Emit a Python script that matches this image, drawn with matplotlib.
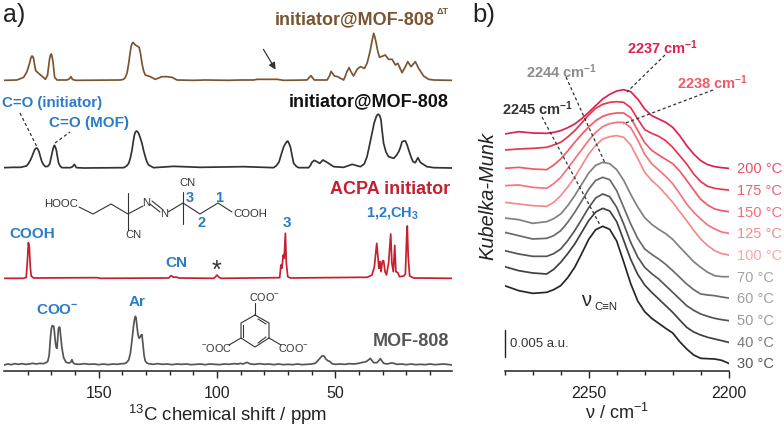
import matplotlib
matplotlib.use("Agg")
import matplotlib.pyplot as plt
import numpy as np

plt.rcParams['font.family'] = ['Liberation Sans', 'DejaVu Sans']
plt.rcParams['mathtext.fontset'] = 'custom'
plt.rcParams['mathtext.rm'] = 'Liberation Sans'
plt.rcParams['mathtext.bf'] = 'Liberation Sans:bold'
plt.rcParams['mathtext.default'] = 'regular'

# a) NMR spectra, chemical shift in ppm and intensity in arbitrary units
brown_ppm = [189.9, 184.5, 181.7, 180.3, 179.2, 178.7, 178.2, 177.9, 177.5, 177.1, 176.6, 175.4, 174, 172.5, 171.6, 171, 170.7, 170.3, 170, 169.7, 169.3, 168.9, 168.6, 167.6, 163.4, 162.3, 161.7, 161.1, 159.9,
             140.8, 139.5, 138.7, 138, 137.3, 136.8, 136.3, 135.9, 135.5, 135, 134.5, 133.8, 132.9, 132.3, 131.7, 131, 130.3, 128.2, 126.1, 123.2, 121.1, 119, 116.9, 110, 105, 95, 90,
             84.5, 83.1, 78.9, 74.6, 71.8,
             62, 60.3, 58.9, 53.5, 52.4, 51.8, 50.4, 49, 46.5, 45.7, 45.1, 44.2, 43.4, 42.3, 40.8, 39.4, 37.7, 36.6, 35.9, 35.2, 34.5, 33.8, 33.3, 32.7, 32, 31.3, 28.9, 27.5, 26, 24.6, 23.6, 21.8, 20.4, 19.4, 18, 16.2, 14.8, 12.7, 10.6, 8.4, 0.7]
brown_int = [0, 1, 9, 26, 51, 66, 73, 72, 66, 48, 29, 21, 13, 3, 16, 50, 66, 77, 79, 72, 56, 28, 9, 1, 1, 5, 11, 3, 0,
             1, 3, 9, 22, 51, 78, 101, 110, 114, 110, 106, 103, 99, 80, 51, 28, 16, 11, 3, 11, 11, 9, 1, 0, 1, 0, 1,
             1, 3, 3, 3, 0,
             1, 14, 1, 1, 14, 27, 13, 11, 1, 14, 26, 38, 26, 13, 33, 41, 36, 51, 70, 91, 118, 141, 130, 111, 85, 69, 76, 63, 63, 46, 51, 23, 41, 56, 41, 56, 36, 13, 3, 1, 0]

black_ppm = [189.9, 186, 183.1, 180.5, 179.6, 178.7, 178.2, 177.6, 177.1, 176.6, 176.1, 175.7, 175.2, 174.6, 174, 173.2, 172.5, 171.5, 170.7, 170.2, 169.7, 169.2, 168.7, 168.3, 167.9, 167.4, 166.9, 166.2, 165.5, 162, 161, 160.3, 159.4, 156.3,
             139.4, 138.2, 137.3, 136.6, 135.9, 135.4, 134.9, 134.5, 134.1, 133.6, 133.1, 132.4, 131.7, 131, 130.3, 129.6, 128.9, 126.8, 118.3, 107, 88.7, 76.1, 74.9,
             73.8, 72.8, 71.8, 71, 70.5, 70.1, 69.6, 69, 68.3, 67.6, 66.5, 65.5, 61.3, 60.5, 59.9, 58.9, 57.8, 56.6, 55.2, 53.5, 50.7, 46.5, 42.9, 39.4, 37.8,
             36.6, 35.5, 34.5, 33.6, 32.7, 32.2, 31.7, 31.2, 30.7, 30.2, 29.6, 28.6, 27.5, 25.3, 24.2, 23.2, 22.5, 21.8, 21, 20.4, 19.7, 19, 18, 17.2, 16.2, 15.1, 14.1, 11.3, 8.4, 0.7]
black_int = [1, 2, 2, 6, 14, 26, 34, 45, 54, 59, 60, 56, 49, 33, 19, 9, 4, 5, 12, 28, 44, 60, 68, 63, 54, 33, 14, 5, 1, 1, 4, 11, 1, 0,
             1, 6, 14, 30, 54, 78, 99, 107, 111, 109, 104, 90, 74, 52, 34, 18, 9, 1, 5, 2, 4, 1, 7,
             18, 42, 64, 74, 79, 81, 74, 64, 38, 14, 5, 1, 1, 8, 17, 23, 19, 14, 24, 17, 4, 2, 11, 4, 12,
             34, 70, 104, 135, 154, 160, 161, 156, 144, 110, 74, 48, 34, 29, 38, 49, 62, 79, 81, 81, 70, 54, 33, 19, 16, 31, 17, 4, 1, 0]

red_ppm = [189.9, 181.7, 180.6, 180.0, 179.7, 179.3, 178.9, 178.5, 177.5, 150.7, 149.3, 120.4, 119.4, 118.3, 117.2, 116.1, 101.4, 100.7, 100.0, 99.3, 98.3,
           73.5, 73.0, 72.6, 72.0, 71.6, 71.1, 70.7, 70.1, 69.0,
           40.1, 36.6, 34.5, 33.5, 32.5, 32.0, 31.6, 31.1, 30.7, 30.1, 29.6, 29.0, 28.4, 27.5, 26.6, 26.1, 25.5, 24.9, 24.4, 23.6, 22.9, 21.1, 20.4, 19.9, 19.6, 19.2, 18.6, 16.9, 0.7]
red_int = [0, 0, 3, 65, 107, 95, 35, 7, 1, 2, 0, 1, 8, 3, 4, 1, 0, 4, 10, 4, 0,
           2, 40, 30, 70, 60, 135, 45, 5, 1,
           3, 3, 10, 35, 105, 65, 30, 50, 20, 52, 53, 20, 10, 45, 133, 45, 20, 99, 20, 17, 5, 7, 13, 115, 157, 65, 7, 1, 0]

mof_ppm = [189.9, 188.4, 186.9, 185.4, 183.9, 182.4, 180.9, 179.4, 177.9, 176.4, 174.9, 173.4, 172.2,
           171.5, 170.9, 170.4, 170.0, 169.7, 169.4, 169.0, 168.7, 168.3, 167.9, 167.6, 167.3, 167.0, 166.7, 166.4, 166.0, 165.5, 164.8, 163.8, 162.6,
           161.8, 161.3, 160.7, 160, 158, 156, 154, 152, 150, 148, 146, 144, 142, 140.5, 139.5,
           138.4, 137.3, 136.6, 135.9, 135.3, 134.9, 134.5, 134.2, 133.8, 133.4, 132.9, 132.4, 132.0, 131.7, 131.3, 130.8, 130.3, 129.6, 128.9, 127, 125, 123, 121, 119, 117, 115, 113, 111, 109, 107, 105, 103, 101, 99, 97, 95, 93,
           91, 90.1, 89, 87.3, 85.9, 84, 82, 80, 78, 76, 74, 72, 70, 68, 66, 64, 62, 60,
           58.5, 57.5, 56.5, 55.8, 55.2, 54.6, 54.0, 53.2, 52.4, 51.4, 50, 48, 46, 44, 42, 40.1, 38.5, 37, 36, 35.2, 34.6, 33.8, 32.4, 31.5, 31.0, 30.4, 29.6, 28, 26.5, 25.2, 24, 22, 20, 18, 16, 14, 12, 10, 8, 6, 4, 2, 0.7]
mof_int = [0, 3, 1, 4, 2, 4, 2, 3, 5, 3, 5, 4, 7,
           11, 30, 80, 108, 117, 118, 116, 100, 68, 52, 50, 80, 108, 114, 112, 85, 50, 22, 8, 6,
           8, 16, 6, 3, 2, 4, 2, 3, 1, 3, 1, 3, 2, 4, 4,
           6, 15, 35, 75, 115, 135, 146, 142, 115, 92, 80, 85, 90, 91, 62, 28, 12, 6, 4, 2, 4, 2, 3, 1, 3, 2, 3, 1, 2, 3, 1, 3, 2, 1, 3, 2, 4,
           3, 5, 3, 8, 3, 2, 4, 2, 3, 1, 3, 1, 2, 1, 3, 1, 2, 3,
           5, 12, 20, 26, 28, 25, 18, 13, 11, 4, 2, 3, 2, 4, 3, 5, 8, 10, 15, 20, 14, 7, 7, 14, 19, 13, 5, 3, 6, 5, 2, 3, 1, 3, 1, 2, 1, 3, 1, 2, 3, 1, 0]

nmr_offsets = [872, 609, 278, 18]

# b) Kubelka-Munk spectra with the stack offset already in them
wavenumber = [2280, 2275, 2270, 2265, 2262.5, 2260, 2257.5, 2255, 2252.5, 2250, 2247.5, 2245, 2242.5, 2240, 2237.5, 2235,
              2232.5, 2230, 2227.5, 2225, 2222.5, 2220, 2217.5, 2215, 2212.5, 2210, 2207.5, 2205, 2202.5, 2200]
km_30 = [256, 241, 233, 236, 244, 256, 280, 311, 352, 395, 424, 434, 425, 390, 327, 262,
         210, 178, 158, 143, 128, 114, 88, 66, 48, 38, 37, 36, 32, 23]
km_40 = [313, 301, 294, 291, 305, 326, 352, 381, 416, 451, 477, 488, 480, 448, 392, 335,
         290, 258, 236, 216, 196, 176, 153, 131, 117, 108, 101, 96, 91, 86]
km_50 = [361, 351, 344, 344, 352, 366, 391, 421, 455, 490, 519, 531, 523, 491, 441, 386,
         342, 311, 292, 276, 256, 236, 216, 196, 182, 171, 164, 158, 154, 151]
km_60 = [416, 406, 396, 398, 406, 421, 446, 476, 510, 545, 572, 581, 574, 541, 491, 441,
         398, 366, 350, 336, 320, 301, 281, 261, 244, 231, 228, 226, 222, 219]
km_70 = [459, 454, 443, 448, 457, 471, 496, 526, 560, 594, 617, 626, 622, 604, 572, 530,
         492, 460, 440, 425, 412, 395, 372, 350, 328, 311, 296, 286, 283, 283]
km_100 = [506, 501, 496, 494, 506, 526, 552, 581, 616, 651, 677, 696, 703, 706, 701, 678,
          638, 596, 572, 553, 530, 506, 478, 451, 422, 396, 376, 361, 352, 348]
km_125 = [556, 558, 551, 548, 562, 581, 608, 636, 664, 692, 716, 733, 742, 746, 746, 730,
          693, 650, 622, 603, 584, 562, 532, 501, 476, 456, 438, 426, 417, 413]
km_150 = [608, 611, 606, 604, 618, 636, 660, 686, 710, 732, 751, 764, 771, 774, 774, 760,
          722, 685, 662, 648, 635, 622, 600, 572, 543, 515, 498, 486, 481, 478]
km_175 = [663, 666, 668, 671, 678, 686, 702, 721, 744, 768, 788, 800, 806, 808, 806, 790,
          756, 724, 713, 704, 691, 671, 646, 621, 591, 568, 554, 548, 545, 543]
km_200 = [711, 718, 714, 713, 716, 721, 730, 741, 757, 776, 796, 816, 830, 840, 844, 838,
          816, 786, 766, 756, 746, 731, 706, 676, 651, 631, 619, 613, 610, 608]
temp_labels = ['200 °C', '175 °C', '150 °C', '125 °C', '100 °C', '70 °C', '60 °C', '50 °C', '40 °C', '30 °C']

nmr_colors = ['#7b5531', '#333333', '#c4202f', '#555555']
km_series = [km_200, km_175, km_150, km_125, km_100, km_70, km_60, km_50, km_40, km_30]
km_colors = ['#e0204f', '#e63650', '#ef5a66', '#f2747c', '#f58a8a', '#808080', '#6a6a6a', '#555555', '#404040', '#262626']
label_colors = ['#e9506f', '#ec5f72', '#f06f7c', '#f58b90', '#f8a6a6', '#a3a3a3', '#a0a0a0', '#999999', '#7a7a7a', '#555555']
blue = '#2b7bc8'

fig = plt.figure(figsize=(7.84, 4.26), dpi=100)


def clean_axis(ax):
    ax.patch.set_alpha(0)
    for side in ['top', 'left', 'right']:
        ax.spines[side].set_visible(False)
    ax.spines['bottom'].set_linewidth(1.1)
    ax.spines['bottom'].set_color('#222222')
    ax.set_yticks([])
    ax.tick_params(axis='x', which='major', length=5, width=1.0, labelsize=11.5, pad=6, color='#222222', labelcolor='#222222')
    ax.tick_params(axis='x', which='minor', length=3, width=1.0, color='#222222')


# panel a
ax1 = fig.add_axes([4 / 784, 55 / 426, 448 / 784, 371 / 426])
for ppm, intensity, off, col in zip([brown_ppm, black_ppm, red_ppm, mof_ppm],
                                    [brown_int, black_int, red_int, mof_int],
                                    nmr_offsets, nmr_colors):
    ax1.plot(ppm, np.array(intensity) + off, color=col, lw=1.25)
ax1.set_xlim(190, 0.7)
ax1.set_ylim(0, 1113)
ax1.set_xticks([150, 100, 50])
ax1.set_xticks(np.arange(10, 190, 10), minor=True)
ax1.set_xlabel(r'$^{13}$C chemical shift / ppm', fontsize=13.4, color='#222222', labelpad=1)
clean_axis(ax1)

# panel b
ax2 = fig.add_axes([504.7 / 784, 55 / 426, 224 / 784, 371 / 426])
for km, col in zip(km_series, km_colors):
    ax2.plot(wavenumber, km, color=col, lw=1.25)
ax2.set_xlim(2280, 2200)
ax2.set_ylim(0, 1113)
ax2.set_xticks([2250, 2200])
ax2.set_xticks(np.arange(2280, 2200, -10), minor=True)
ax2.set_xlabel(r'$\nu$ / cm$^{-1}$', fontsize=13, color='#222222', labelpad=1)
clean_axis(ax2)

# overlay in picture pixels for labels and the two structures
ov = fig.add_axes([0, 0, 1, 1])
ov.set_xlim(0, 784)
ov.set_ylim(426, 0)
ov.axis('off')


def label(x, y, s, col='#222222', size=10, weight='normal', ha='center', **kw):
    ov.text(x, y, s, color=col, fontsize=size, fontweight=weight, ha=ha, va='center', **kw)


def bonds(points, lw=0.8, col='#333333'):
    xs, ys = zip(*points)
    ov.plot(xs, ys, color=col, lw=lw, solid_capstyle='round')


def dashed(x0, y0, x1, y1):
    ov.plot([x0, x1], [y0, y1], color='#333333', lw=0.9, ls=(0, (2.5, 2)))


label(14, 15, 'a)', size=18)
label(484, 15, 'b)', size=18.5)

# spectrum names
label(435, 20, 'initiator@MOF-808', nmr_colors[0], 13, 'bold', ha='right')
label(443, 12, 'ΔT', nmr_colors[0], 6.5, 'bold')
label(449, 102, 'initiator@MOF-808', '#111111', 13, 'bold', ha='right')
label(450, 190, 'ACPA initiator', nmr_colors[2], 13, 'bold', ha='right')
label(449, 342, 'MOF-808', nmr_colors[3], 13, 'bold', ha='right')

# blue assignments
label(52, 103, 'C=O (initiator)', blue, 10.8, 'bold')
label(89, 123, 'C=O (MOF)', blue, 11, 'bold')
label(32, 234, 'COOH', blue, 11, 'bold')
label(176, 263, 'CN', blue, 11, 'bold')
label(287, 223, '3', blue, 11, 'bold')
label(393, 213, r'1,2,CH$_3$', blue, 10.5, 'bold')
label(57, 310, r'COO$^{-}$', blue, 11, 'bold')
label(137, 302, 'Ar', blue, 11, 'bold')
label(216.7, 271, '*', '#333333', 18)
dashed(20, 113, 36.5, 146)
dashed(55, 143, 70, 132)
ov.annotate('', xy=(277, 72), xytext=(262, 47),
            arrowprops=dict(arrowstyle='-|>', color='#333333', lw=0.9, mutation_scale=10))

# ACPA structure
bonds([(79, 207), (93, 214), (111, 204), (128, 214), (143, 206)])
bonds([(128, 193), (128, 230)])
bonds([(168, 212), (183, 203), (200, 214), (218, 203), (232, 212)])
bonds([(183, 192), (183, 224)])
bonds([(150, 204), (160, 212)])
bonds([(152, 201), (162, 209)])
label(61.5, 204, 'HOOC', '#333333', 8.2)
label(146.5, 203.5, 'N', '#333333', 8)
label(164, 214, 'N', '#333333', 8)
label(133, 235, 'CN', '#333333', 8)
label(187, 183, 'CN', '#333333', 8)
label(250, 214, 'COOH', '#333333', 8.2)
label(190, 198, '3', blue, 10.5, 'bold')
label(219, 198, '1', blue, 10.5, 'bold')
label(202, 223, '2', blue, 10.5, 'bold')

# trimesate structure
ring = [(255, 315), (269, 323), (269, 338), (255, 347), (241, 338), (241, 323), (255, 315)]
bonds(ring)
bonds([(255, 315), (255, 303)])
bonds([(241, 338), (229, 345)])
bonds([(269, 338), (281, 345)])
bonds([(243.5, 325), (243.5, 337)])
bonds([(258, 319), (266, 324)])
bonds([(258, 343), (266, 337)])
label(264, 297, r'COO$^{-}$', '#333333', 7.8)
label(217, 348, r'$^{-}$OOC', '#333333', 7.8)
label(293, 348, r'COO$^{-}$', '#333333', 7.8)

# panel b labels
label(663, 48, r'2237 cm$^{-1}$', '#e0204f', 10.5, 'bold')
label(713, 83, r'2238 cm$^{-1}$', '#ef5a66', 10.5, 'bold')
label(562, 72, r'2244 cm$^{-1}$', '#8c8c8c', 10.5, 'bold')
label(538, 109, r'2245 cm$^{-1}$', '#333333', 10.5, 'bold')
dashed(665, 55, 627, 92)
dashed(713, 90, 623, 124)
dashed(566, 77, 605, 163)
dashed(542, 117, 600, 225)

label_y = [169, 191, 213, 234, 256, 278, 299, 321, 343, 364]
for y, s, col in zip(label_y, temp_labels, label_colors):
    label(737, y, s, col, 10.5, ha='left')

label(488, 196, 'Kubelka-Munk', '#222222', 14.4, style='italic', rotation=90)
label(587, 300, r'$\nu$', '#222222', 14.5)
label(605.5, 307, 'C≡N', '#222222', 8.2)
bonds([(504.7, 330), (504.7, 357)], lw=1.0, col='#222222')
label(510, 344, '0.005 a.u.', '#333333', 9.5, ha='left')

fig.savefig('out.png', dpi=100)
